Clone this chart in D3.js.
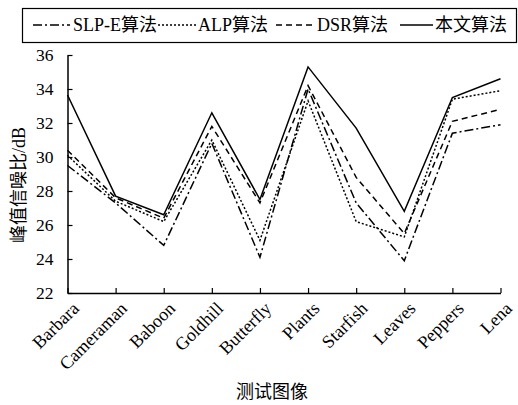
<!DOCTYPE html>
<html><head><meta charset="utf-8">
<script src="https://cdn.jsdelivr.net/npm/d3@7"></script>
<style>body{margin:0;background:#fff}svg{display:block}</style>
</head><body>
<svg id="c" width="518" height="405"></svg>
<script>
const categories = ["Barbara","Cameraman","Baboon","Goldhill","Butterfly","Plants","Starfish","Leaves","Peppers","Lena"];
const slpE = [29.5, 27.3, 24.8, 30.8, 24.1, 34.0, 27.3, 23.9, 31.4, 31.9];
const alp  = [30.1, 27.4, 26.2, 31.0, 25.1, 33.3, 26.2, 25.3, 33.4, 33.9];
const dsr  = [30.4, 27.6, 26.4, 31.8, 27.3, 34.2, 28.8, 25.5, 32.1, 32.8];
const ours = [33.65, 27.7, 26.6, 32.6, 27.5, 35.3, 31.7, 26.8, 33.5, 34.6];
const yTicks = [22,24,26,28,30,32,34,36];
const seriesNames = ["SLP-E算法","ALP算法","DSR算法","本文算法"];
const axisTitleX = "测试图像";
const axisTitleY = "峰值信噪比/dB";

const svg = d3.select("#c");
const L = 67.5, R = 500.5, T = 55, B = 293;
const x = d3.scalePoint().domain(categories).range([L, R]);
const y = d3.scaleLinear().domain([22, 36]).range([B, T]);
const serif = "Liberation Serif, Times New Roman, DejaVu Serif, serif";
const cjk = "Liberation Serif, Noto Sans CJK SC, serif";

// axes
const gx = svg.append("g").attr("transform", `translate(0,${B})`)
  .call(d3.axisBottom(x).tickSizeInner(-5).tickSizeOuter(0).tickFormat(""));
gx.select(".domain").attr("stroke","#000").attr("stroke-width",1.5);
gx.selectAll(".tick line").attr("stroke","#000").attr("stroke-width",1.2);

gx.selectAll(".lbl").data(categories).enter().append("text")
  .attr("transform", d => `translate(${x(d)+3},${7}) rotate(-45)`)
  .attr("text-anchor","end").attr("dy","0.75em")
  .attr("font-family", serif).attr("font-size","18px").attr("fill","#000")
  .text(d => d);

const gy = svg.append("g").attr("transform", `translate(${L},0)`)
  .call(d3.axisLeft(y).tickValues(yTicks).tickSizeInner(-5).tickSizeOuter(0).tickPadding(14));
gy.select(".domain").attr("stroke","#000").attr("stroke-width",1.5);
gy.selectAll(".tick line").attr("stroke","#000").attr("stroke-width",1.2);
gy.selectAll(".tick text").attr("font-family", serif).attr("font-size","17.5px").attr("fill","#000");

svg.append("text").attr("x", 272).attr("y", 392).attr("dy","0.35em").attr("text-anchor","middle")
  .attr("font-family", cjk).attr("font-size","18px").text(axisTitleX);
svg.append("text").attr("transform", `translate(19,185) rotate(-90)`)
  .attr("text-anchor","middle").attr("dy","0.35em")
  .attr("font-family", cjk).attr("font-size","18px").text(axisTitleY);

// series
const dashes = ["9,3,2,3","2,2","6,4",null];
const data = [slpE, alp, dsr, ours];
const line = d3.line().x((d,i) => x(categories[i])).y(d => y(d));
data.forEach((s, k) => {
  svg.append("path").datum(s).attr("d", line)
    .attr("fill","none").attr("stroke","#000").attr("stroke-width",1.5)
    .attr("stroke-dasharray", dashes[k]);
});

// legend
const lg = svg.append("g");
lg.append("rect").attr("x",22.5).attr("y",8.5).attr("width",494).attr("height",34)
  .attr("fill","#fff").attr("stroke","#000").attr("stroke-width",1.2);
const items = [{x1:33,x2:70,tx:73},{x1:158,x2:197,tx:198},{x1:276,x2:315,tx:317},{x1:400,x2:433,tx:435}];
items.forEach((it,k) => {
  lg.append("line").attr("x1",it.x1).attr("x2",it.x2).attr("y1",25).attr("y2",25)
    .attr("stroke","#000").attr("stroke-width",1.5).attr("stroke-dasharray",dashes[k]);
  lg.append("text").attr("x",it.tx).attr("y",25).attr("dy","0.35em")
    .attr("font-family", cjk).attr("font-size","18px").text(seriesNames[k]);
});
</script>
</body></html>
